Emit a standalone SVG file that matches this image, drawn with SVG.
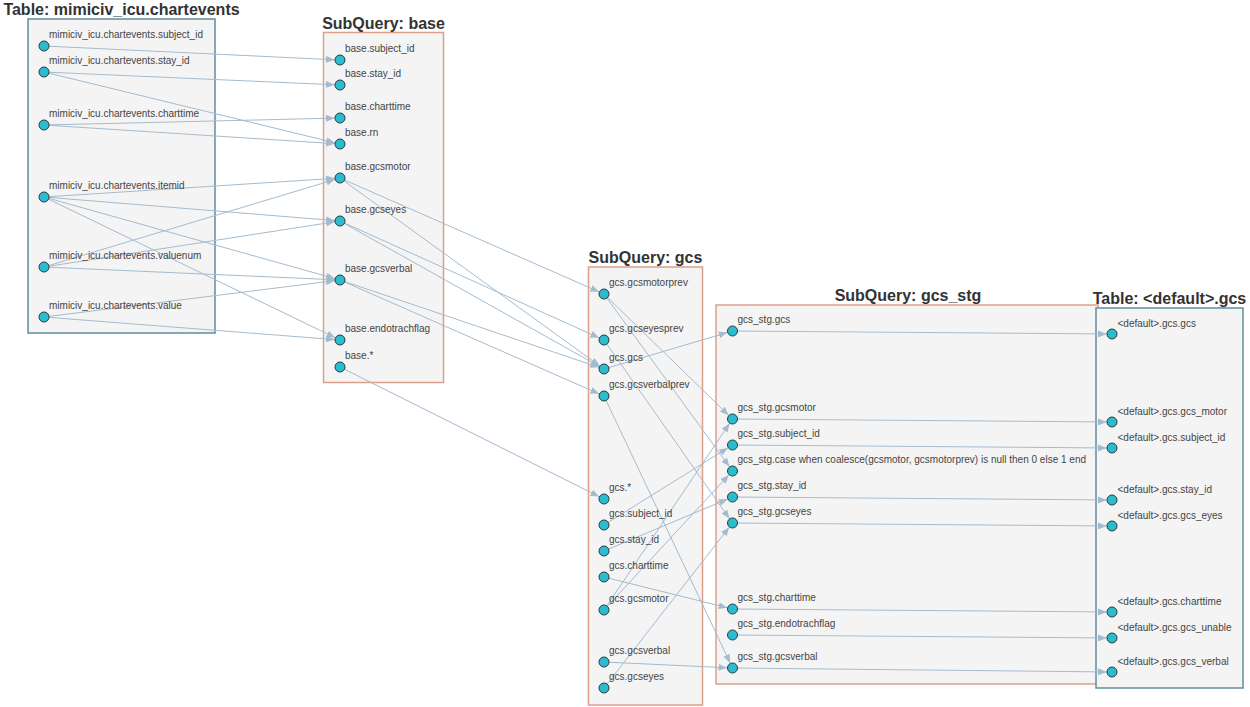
<svg xmlns="http://www.w3.org/2000/svg" width="1250" height="707" viewBox="0 0 1250 707">
  <style>
    .box { fill: #f4f4f4; stroke-width: 1.5; }
    .table { stroke: #5f8ca0; }
    .subq { stroke: #dca08a; }
    .title { font-family: "Liberation Sans", Arial, sans-serif; font-size: 16px; font-weight: bold; fill: #333; text-anchor: middle; }
    .field circle { fill: #2bbccf; stroke: #2a3b40; stroke-width: 1; }
    .field text { font-family: "Liberation Sans", Arial, sans-serif; font-size: 10px; fill: #444; }
    #connectors path { fill: none; stroke: #a3bbce; stroke-width: 1; marker-end: url(#arrow); }
  </style>
  <defs>
    <marker id="arrow" markerUnits="userSpaceOnUse" markerWidth="16" markerHeight="8" refX="14" refY="3.5" orient="auto">
      <path d="M0,0 L8.5,3.5 L0,7 z" fill="#a3bbce"/>
    </marker>
  </defs>

  <rect width="1250" height="707" fill="#ffffff"/>

  <!-- containers -->
  <g id="tbl-chartevents">
    <rect class="box table" x="28" y="19" width="187" height="314"/>
    <text class="title" x="121.5" y="15">Table: mimiciv_icu.chartevents</text>
  </g>
  <g id="sq-base">
    <rect class="box subq" x="323.5" y="32.5" width="120" height="350"/>
    <text class="title" x="383.5" y="28.5">SubQuery: base</text>
  </g>
  <g id="sq-gcs">
    <rect class="box subq" x="588.5" y="267" width="114" height="438"/>
    <text class="title" x="645.5" y="263">SubQuery: gcs</text>
  </g>
  <g id="sq-gcs_stg">
    <rect class="box subq" x="716" y="305" width="382" height="379"/>
    <text class="title" x="908" y="301">SubQuery: gcs_stg</text>
  </g>
  <g id="tbl-default-gcs">
    <rect class="box table" x="1096" y="308" width="147" height="380"/>
    <text class="title" x="1169.5" y="304">Table: &lt;default&gt;.gcs</text>
  </g>

  <!-- lineage edges -->
  <g id="connectors">
    <path d="M44,46 L340,60"/>
    <path d="M44,72 L340,85"/>
    <path d="M44,72 L340,144"/>
    <path d="M44,125 L340,118"/>
    <path d="M44,125 L340,144"/>
    <path d="M44,197 L340,178"/>
    <path d="M44,197 L340,221"/>
    <path d="M44,197 L340,280"/>
    <path d="M44,197 L340,340"/>
    <path d="M44,267 L340,178"/>
    <path d="M44,267 L340,221"/>
    <path d="M44,267 L340,280"/>
    <path d="M44,317 L340,280"/>
    <path d="M44,317 L340,340"/>

    <path d="M340,178 L604,294"/>
    <path d="M340,178 L604,369"/>
    <path d="M340,221 L604,340"/>
    <path d="M340,221 L604,369"/>
    <path d="M340,280 L604,369"/>
    <path d="M340,280 L604,396"/>
    <path d="M340,367 L604,499"/>

    <path d="M604,369 L732.5,331"/>
    <path d="M604,294 L732.5,419"/>
    <path d="M604,294 L732.5,471"/>
    <path d="M604,340 L732.5,523"/>
    <path d="M604,396 L732.5,668"/>
    <path d="M604,525 L732.5,445"/>
    <path d="M604,551 L732.5,497"/>
    <path d="M604,577 L732.5,609"/>
    <path d="M604,610 L732.5,419"/>
    <path d="M604,610 L732.5,471"/>
    <path d="M604,662 L732.5,668"/>
    <path d="M604,688 L732.5,523"/>

    <path d="M732.5,331 L1112,334"/>
    <path d="M732.5,419 L1112,422"/>
    <path d="M732.5,445 L1112,448"/>
    <path d="M732.5,497 L1112,500"/>
    <path d="M732.5,523 L1112,526"/>
    <path d="M732.5,609 L1112,612"/>
    <path d="M732.5,635 L1112,638"/>
    <path d="M732.5,668 L1112,672"/>
  </g>

  <!-- columns of mimiciv_icu.chartevents -->
  <g id="ce-subject_id" class="field"><circle cx="44" cy="46" r="5"/><text x="49" y="38">mimiciv_icu.chartevents.subject_id</text></g>
  <g id="ce-stay_id" class="field"><circle cx="44" cy="72" r="5"/><text x="49" y="64">mimiciv_icu.chartevents.stay_id</text></g>
  <g id="ce-charttime" class="field"><circle cx="44" cy="125" r="5"/><text x="49" y="117">mimiciv_icu.chartevents.charttime</text></g>
  <g id="ce-itemid" class="field"><circle cx="44" cy="197" r="5"/><text x="49" y="189">mimiciv_icu.chartevents.itemid</text></g>
  <g id="ce-valuenum" class="field"><circle cx="44" cy="267" r="5"/><text x="49" y="259">mimiciv_icu.chartevents.valuenum</text></g>
  <g id="ce-value" class="field"><circle cx="44" cy="317" r="5"/><text x="49" y="309">mimiciv_icu.chartevents.value</text></g>

  <!-- columns of base -->
  <g id="base-subject_id" class="field"><circle cx="340" cy="60" r="5"/><text x="345" y="52">base.subject_id</text></g>
  <g id="base-stay_id" class="field"><circle cx="340" cy="85" r="5"/><text x="345" y="77">base.stay_id</text></g>
  <g id="base-charttime" class="field"><circle cx="340" cy="118" r="5"/><text x="345" y="110">base.charttime</text></g>
  <g id="base-rn" class="field"><circle cx="340" cy="144" r="5"/><text x="345" y="136">base.rn</text></g>
  <g id="base-gcsmotor" class="field"><circle cx="340" cy="178" r="5"/><text x="345" y="170">base.gcsmotor</text></g>
  <g id="base-gcseyes" class="field"><circle cx="340" cy="221" r="5"/><text x="345" y="213">base.gcseyes</text></g>
  <g id="base-gcsverbal" class="field"><circle cx="340" cy="280" r="5"/><text x="345" y="272">base.gcsverbal</text></g>
  <g id="base-endotrachflag" class="field"><circle cx="340" cy="340" r="5"/><text x="345" y="332">base.endotrachflag</text></g>
  <g id="base-star" class="field"><circle cx="340" cy="367" r="5"/><text x="345" y="359">base.*</text></g>

  <!-- columns of gcs -->
  <g id="gcs-gcsmotorprev" class="field"><circle cx="604" cy="294" r="5"/><text x="609" y="286">gcs.gcsmotorprev</text></g>
  <g id="gcs-gcseyesprev" class="field"><circle cx="604" cy="340" r="5"/><text x="609" y="332">gcs.gcseyesprev</text></g>
  <g id="gcs-gcs" class="field"><circle cx="604" cy="369" r="5"/><text x="609" y="361">gcs.gcs</text></g>
  <g id="gcs-gcsverbalprev" class="field"><circle cx="604" cy="396" r="5"/><text x="609" y="388">gcs.gcsverbalprev</text></g>
  <g id="gcs-star" class="field"><circle cx="604" cy="499" r="5"/><text x="609" y="491">gcs.*</text></g>
  <g id="gcs-subject_id" class="field"><circle cx="604" cy="525" r="5"/><text x="609" y="517">gcs.subject_id</text></g>
  <g id="gcs-stay_id" class="field"><circle cx="604" cy="551" r="5"/><text x="609" y="543">gcs.stay_id</text></g>
  <g id="gcs-charttime" class="field"><circle cx="604" cy="577" r="5"/><text x="609" y="569">gcs.charttime</text></g>
  <g id="gcs-gcsmotor" class="field"><circle cx="604" cy="610" r="5"/><text x="609" y="602">gcs.gcsmotor</text></g>
  <g id="gcs-gcsverbal" class="field"><circle cx="604" cy="662" r="5"/><text x="609" y="654">gcs.gcsverbal</text></g>
  <g id="gcs-gcseyes" class="field"><circle cx="604" cy="688" r="5"/><text x="609" y="680">gcs.gcseyes</text></g>

  <!-- columns of gcs_stg -->
  <g id="stg-gcs" class="field"><circle cx="732.5" cy="331" r="5"/><text x="737.5" y="323">gcs_stg.gcs</text></g>
  <g id="stg-gcsmotor" class="field"><circle cx="732.5" cy="419" r="5"/><text x="737.5" y="411">gcs_stg.gcsmotor</text></g>
  <g id="stg-subject_id" class="field"><circle cx="732.5" cy="445" r="5"/><text x="737.5" y="437">gcs_stg.subject_id</text></g>
  <g id="stg-gcs_unable_expr" class="field"><circle cx="732.5" cy="471" r="5"/><text x="737.5" y="463">gcs_stg.case when coalesce(gcsmotor, gcsmotorprev) is null then 0 else 1 end</text></g>
  <g id="stg-stay_id" class="field"><circle cx="732.5" cy="497" r="5"/><text x="737.5" y="489">gcs_stg.stay_id</text></g>
  <g id="stg-gcseyes" class="field"><circle cx="732.5" cy="523" r="5"/><text x="737.5" y="515">gcs_stg.gcseyes</text></g>
  <g id="stg-charttime" class="field"><circle cx="732.5" cy="609" r="5"/><text x="737.5" y="601">gcs_stg.charttime</text></g>
  <g id="stg-endotrachflag" class="field"><circle cx="732.5" cy="635" r="5"/><text x="737.5" y="627">gcs_stg.endotrachflag</text></g>
  <g id="stg-gcsverbal" class="field"><circle cx="732.5" cy="668" r="5"/><text x="737.5" y="660">gcs_stg.gcsverbal</text></g>

  <!-- columns of <default>.gcs -->
  <g id="out-gcs" class="field"><circle cx="1112" cy="334" r="5"/><text x="1117.5" y="326.5">&lt;default&gt;.gcs.gcs</text></g>
  <g id="out-gcs_motor" class="field"><circle cx="1112" cy="422" r="5"/><text x="1117.5" y="414.5">&lt;default&gt;.gcs.gcs_motor</text></g>
  <g id="out-subject_id" class="field"><circle cx="1112" cy="448" r="5"/><text x="1117.5" y="440.5">&lt;default&gt;.gcs.subject_id</text></g>
  <g id="out-stay_id" class="field"><circle cx="1112" cy="500" r="5"/><text x="1117.5" y="492.5">&lt;default&gt;.gcs.stay_id</text></g>
  <g id="out-gcs_eyes" class="field"><circle cx="1112" cy="526" r="5"/><text x="1117.5" y="518.5">&lt;default&gt;.gcs.gcs_eyes</text></g>
  <g id="out-charttime" class="field"><circle cx="1112" cy="612" r="5"/><text x="1117.5" y="604.5">&lt;default&gt;.gcs.charttime</text></g>
  <g id="out-gcs_unable" class="field"><circle cx="1112" cy="638" r="5"/><text x="1117.5" y="630.5">&lt;default&gt;.gcs.gcs_unable</text></g>
  <g id="out-gcs_verbal" class="field"><circle cx="1112" cy="672" r="5"/><text x="1117.5" y="664.5">&lt;default&gt;.gcs.gcs_verbal</text></g>
</svg>
